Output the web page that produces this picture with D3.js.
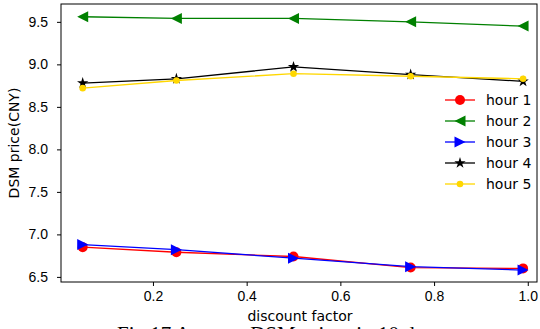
<!DOCTYPE html>
<html>
<head>
<meta charset="utf-8">
<script src="https://cdn.jsdelivr.net/npm/d3@7"></script>
<style>
  body { margin: 0; background: #fff; }
  svg { display: block; font-family: "DejaVu Sans", sans-serif; }
  .axis text { font-size: 14px; fill: #000; }
  .axis path, .axis line { stroke: #000; }
</style>
</head>
<body>
<div id="chart"></div>
<script>
// data
const discount = [0.05, 0.25, 0.5, 0.75, 0.99];
const hour1 = [6.85, 6.79, 6.74, 6.61, 6.60];
const hour2 = [9.56, 9.54, 9.54, 9.50, 9.45];
const hour3 = [6.88, 6.82, 6.72, 6.62, 6.58];
const hour4 = [8.78, 8.83, 8.97, 8.88, 8.80];
const hour5 = [8.72, 8.81, 8.89, 8.86, 8.83];
const seriesNames = ['hour 1', 'hour 2', 'hour 3', 'hour 4', 'hour 5'];
const xTicks = [0.2, 0.4, 0.6, 0.8, 1.0];
const yTicks = [6.5, 7.0, 7.5, 8.0, 8.5, 9.0, 9.5];

const width = 540, height = 329;
const margin = {top: 4, right: 3, bottom: 47, left: 61};
const w = width - margin.left - margin.right;
const h = height - margin.top - margin.bottom;

const svg = d3.select('#chart').append('svg')
    .attr('width', width)
    .attr('height', height);

const chart = svg.append('g')
    .attr('transform', `translate(${margin.left},${margin.top})`);

const xScale = d3.scaleLinear().domain([0.0037, 1.0197]).range([0, w]);
const yScale = d3.scaleLinear().domain([6.44, 9.71]).range([h, 0]);

// axes
chart.append('g')
    .attr('class', 'axis')
    .attr('transform', `translate(0,${h})`)
    .call(d3.axisBottom(xScale).tickValues(xTicks).tickFormat(d3.format('.1f')).tickSize(4).tickPadding(5))
    .call(g => g.select('.domain').remove());

chart.append('g')
    .attr('class', 'axis')
    .call(d3.axisLeft(yScale).tickValues(yTicks).tickFormat(d3.format('.1f')).tickSize(4).tickPadding(9))
    .call(g => g.select('.domain').remove());

const series = [
    {name: seriesNames[0], values: hour1, color: '#ff0000', marker: 'circle', size: 5},
    {name: seriesNames[1], values: hour2, color: '#008000', marker: 'left', size: 5.5},
    {name: seriesNames[2], values: hour3, color: '#0000ff', marker: 'right', size: 5.5},
    {name: seriesNames[3], values: hour4, color: '#000000', marker: 'star', size: 5},
    {name: seriesNames[4], values: hour5, color: '#ffd700', marker: 'circle', size: 3.3}
];

function drawMarker(g, s) {
    const r = s.size;
    if (s.marker === 'circle') {
        g.append('circle').attr('r', r).attr('fill', s.color);
    } else if (s.marker === 'left') {
        g.append('path').attr('d', `M${-r},0L${r},${-r}L${r},${r}Z`).attr('fill', s.color);
    } else if (s.marker === 'right') {
        g.append('path').attr('d', `M${r},0L${-r},${-r}L${-r},${r}Z`).attr('fill', s.color);
    } else {
        g.append('path').attr('d', d3.symbol(d3.symbolStar, 40)()).attr('fill', s.color);
    }
}

const line = d3.line()
    .x((d, i) => xScale(discount[i]))
    .y(d => yScale(d));

series.forEach(s => {
    chart.append('path')
        .datum(s.values)
        .attr('fill', 'none')
        .attr('stroke', s.color)
        .attr('stroke-width', 1.3)
        .attr('d', line);
    s.values.forEach((v, i) => {
        const g = chart.append('g')
            .attr('transform', `translate(${xScale(discount[i])},${yScale(v)})`);
        drawMarker(g, s);
    });
});

// frame
chart.append('rect')
    .attr('width', w).attr('height', h)
    .attr('fill', 'none').attr('stroke', '#000').attr('stroke-width', 1);

// legend
const legend = svg.append('g').attr('transform', 'translate(445,100)');
series.forEach((s, i) => {
    const g = legend.append('g').attr('transform', `translate(0,${i * 21})`);
    g.append('line').attr('x1', 0).attr('x2', 30).attr('stroke', s.color).attr('stroke-width', 1.3);
    drawMarker(g.append('g').attr('transform', 'translate(15,0)'), s);
    g.append('text').attr('x', 41).attr('y', 0).attr('dy', '0.35em')
        .style('font-size', '14px').text(s.name);
});

// axis titles
svg.append('text')
    .attr('x', margin.left + w / 2 + 1)
    .attr('y', 321)
    .attr('text-anchor', 'middle')
    .style('font-size', '14px')
    .text('discount factor');

svg.append('text')
    .attr('transform', `translate(19,${margin.top + h / 2}) rotate(-90)`)
    .attr('text-anchor', 'middle')
    .style('font-size', '14px')
    .text('DSM price(CNY)');

// figure caption, cut off by the page edge
svg.append('text')
    .attr('x', 117)
    .attr('y', 341)
    .style('font-family', '"Liberation Serif", serif')
    .style('font-size', '21px')
    .text('Fig.17 Average DSM prices in 10 days');
</script>
</body>
</html>
